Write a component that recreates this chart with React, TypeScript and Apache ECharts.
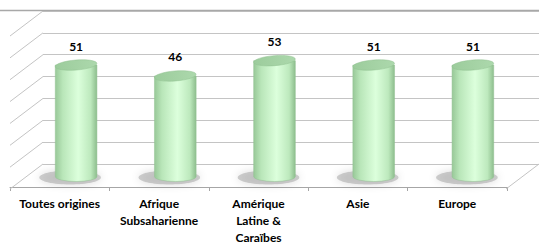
import React, { useEffect, useRef } from "react";
import * as echarts from "echarts";

const categories = [
  "Toutes origines",
  "Afrique\nSubsaharienne",
  "Amérique\nLatine &\nCaraïbes",
  "Asie",
  "Europe",
];
const values = [51, 46, 53, 51, 51];
const yTicks = [0, 10, 20, 30, 40, 50, 60, 70];

const DX = 33;
const DY = 25;
const FONT = "Lato, 'Liberation Sans', sans-serif";

export default function App() {
  const ref = useRef<HTMLDivElement>(null);
  useEffect(() => {
    if (!ref.current) return;
    const chart = echarts.init(ref.current, undefined, { renderer: "svg" });

    const bodyGrad = new echarts.graphic.LinearGradient(0, 0, 1, 0, [
      { offset: 0, color: "#98c898" },
      { offset: 0.18, color: "#b9e6b9" },
      { offset: 0.55, color: "#dcffdc" },
      { offset: 0.85, color: "#bde9bd" },
      { offset: 1, color: "#8dbd8d" },
    ]);
    const topGrad = new echarts.graphic.LinearGradient(0, 0, 1, 0, [
      { offset: 0, color: "#9ccc9c" },
      { offset: 1, color: "#acd8ac" },
    ]);

    chart.setOption({
      animation: false,
      grid: [
        { left: 43, right: -1, top: 11, bottom: 82 },
        { left: 10, right: 32, top: 40, bottom: 57 },
      ],
      xAxis: [
        {
          type: "category",
          gridIndex: 0,
          data: categories,
          show: false,
        },
        {
          type: "category",
          gridIndex: 1,
          data: categories,
          axisLine: { show: true, lineStyle: { color: "#a6a6a6", width: 1 } },
          axisTick: { show: true, length: 4, lineStyle: { color: "#a6a6a6" } },
          axisLabel: {
            interval: 0,
            margin: 8,
            fontFamily: FONT,
            fontWeight: "bold",
            fontSize: 12,
            lineHeight: 17,
            color: "#000",
          },
        },
      ],
      yAxis: [
        {
          type: "value",
          gridIndex: 0,
          min: 0,
          max: 70,
          interval: 10,
          axisLine: { show: false },
          axisTick: { show: false },
          axisLabel: { show: false },
          splitLine: { show: true, lineStyle: { color: "#c4c4c4", width: 1 } },
        },
        { type: "value", gridIndex: 1, show: false, min: 0, max: 70 },
      ],
      graphic: [
        {
          type: "line",
          shape: { x1: 0, y1: 10.5, x2: 539, y2: 10.5 },
          style: { stroke: "#a8a8a8", lineWidth: 1.5 },
          z: 10,
        },
      ],
      series: [
        {
          type: "custom",
          xAxisIndex: 0,
          yAxisIndex: 0,
          clip: false,
          silent: true,
          data: yTicks.map((t) => [0, t]),
          renderItem: (params: any, api: any) => {
            const v = api.value(1);
            const p = api.coord([0, v]);
            const bw = api.size([1, 0])[0];
            const x0 = p[0] - bw / 2;
            const children: any[] = [
              {
                type: "line",
                shape: { x1: x0, y1: p[1], x2: x0 - DX, y2: p[1] + DY },
                style: { stroke: "#c4c4c4", lineWidth: 1 },
              },
            ];
            if (v === 0) {
              const pr = api.coord([categories.length - 1, 0]);
              const xr = pr[0] + bw / 2;
              children.push({
                type: "line",
                shape: { x1: xr, y1: p[1], x2: xr - DX, y2: p[1] + DY },
                style: { stroke: "#c4c4c4", lineWidth: 1 },
              });
            }
            return { type: "group", children };
          },
        },
        {
          type: "custom",
          xAxisIndex: 0,
          yAxisIndex: 0,
          clip: false,
          silent: true,
          data: values.map((v, i) => [i, v]),
          renderItem: (params: any, api: any) => {
            const i = api.value(0);
            const v = api.value(1);
            const top = api.coord([i, v]);
            const base = api.coord([i, 0]);
            const bw = api.size([1, 0])[0];
            const cx = top[0] - DX / 2;
            const yTop = top[1] + DY / 2;
            const yBot = base[1] + DY / 2;
            const rx = bw * 0.21;
            const ry = 5;
            const body =
              `M${cx - rx},${yTop} L${cx - rx},${yBot} ` +
              `A${rx},${ry} 0 0 0 ${cx + rx},${yBot} L${cx + rx},${yTop} Z`;
            return {
              type: "group",
              children: [
                {
                  type: "ellipse",
                  shape: { cx: cx - 6, cy: yBot + 1, rx: rx + 10, ry: ry + 2 },
                  style: {
                    fill: "rgba(120,120,120,0.35)",
                    shadowBlur: 8,
                    shadowColor: "rgba(0,0,0,0.4)",
                  },
                },
                {
                  type: "path",
                  shape: { pathData: body },
                  style: { fill: bodyGrad, stroke: "#92c292", lineWidth: 0.5 },
                },
                {
                  type: "ellipse",
                  x: cx,
                  y: yTop,
                  rotation: 0.08,
                  shape: { cx: 0, cy: 0, rx: rx, ry: ry },
                  style: { fill: topGrad, stroke: "#90c090", lineWidth: 0.5 },
                },
                {
                  type: "text",
                  x: cx,
                  y: yTop - 19,
                  style: {
                    text: String(v),
                    fill: "#000",
                    font: `bold 12px ${FONT}`,
                    align: "center",
                    verticalAlign: "middle",
                  },
                },
              ],
            };
          },
        },
      ],
    });
    return () => chart.dispose();
  }, []);
  return (
    <div
      ref={ref}
      style={{ position: "fixed", left: 0, top: 0, width: 539, height: 246, background: "#fff" }}
    />
  );
}
